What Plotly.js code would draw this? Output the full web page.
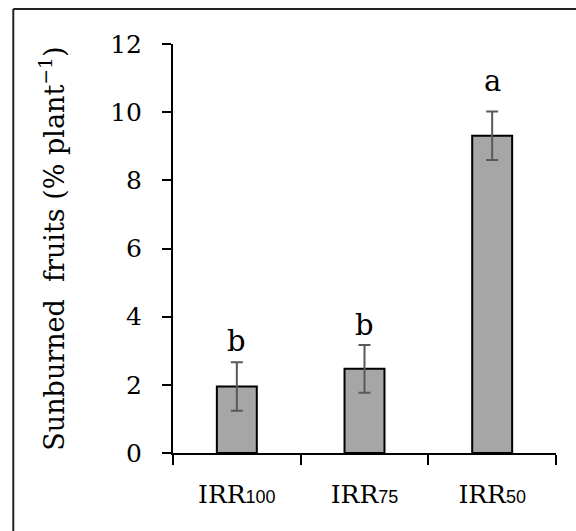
<!DOCTYPE html>
<html>
<head>
<meta charset="utf-8">
<script src="https://cdn.plot.ly/plotly-3.0.1.min.js"></script>
<style>html,body{margin:0;padding:0;background:#fff;}#chart{width:576px;height:531px;}</style>
</head>
<body>
<div id="chart"></div>
<script>
// Data
var categories = ["IRR100", "IRR75", "IRR50"];
var tickMain = ["IRR", "IRR", "IRR"];
var tickSub = ["100", "75", "50"];
var values = [1.95, 2.47, 9.31];
var errors = [0.71, 0.70, 0.71];
var letters = ["b", "b", "a"];
var letterY = [3.3, 3.75, 10.9];
var yTicks = [0, 2, 4, 6, 8, 10, 12];

var serif = "DejaVu Serif";
var ticktext = categories.map(function (c, i) {
  return tickMain[i] + '<span style="font-family:Liberation Sans;font-size:18px">' + tickSub[i] + '</span>';
});

var trace = {
  type: "bar",
  x: categories,
  y: values,
  width: 0.313,
  marker: {color: "#a6a6a6", line: {color: "#000000", width: 2}},
  error_y: {type: "data", array: errors, visible: true, color: "#595959", thickness: 2, width: 6},
  hoverinfo: "skip"
};

var annotations = letters.map(function (t, i) {
  return {x: categories[i], y: letterY[i], xref: "x", yref: "y", text: t, showarrow: false,
    font: {family: serif, size: 29, color: "#000"}, yanchor: "middle", xanchor: "center"};
});

var layout = {
  width: 576, height: 531,
  margin: {l: 173, r: 20, t: 44, b: 77.5},
  paper_bgcolor: "#fff", plot_bgcolor: "#fff",
  showlegend: false,
  bargap: 0,
  xaxis: {
    type: "category",
    tickmode: "array", tickvals: categories, ticktext: ticktext,
    tickson: "boundaries",
    ticks: "outside", ticklen: 10, tickwidth: 2, tickcolor: "#000",
    showline: true, linecolor: "#000", linewidth: 2,
    showgrid: false, zeroline: false,
    ticklabelstandoff: 18,
    tickfont: {family: serif, size: 25, color: "#000"}
  },
  yaxis: {
    range: [0, 12],
    tickmode: "array", tickvals: yTicks,
    ticks: "outside", ticklen: 9, tickwidth: 2, tickcolor: "#000",
    showline: true, linecolor: "#000", linewidth: 2,
    showgrid: false, zeroline: false,
    ticklabelstandoff: 15,
    tickfont: {family: serif, size: 25, color: "#000"},
    title: {text: "Sunburned&nbsp; fruits (% plant<sup>\u22121</sup>)", standoff: 38,
      font: {family: serif, size: 27, color: "#000"}}
  },
  annotations: annotations,
  shapes: [
    {type: "line", xref: "paper", yref: "paper", x0: -0.417, x1: -0.417, y0: -0.6, y1: 1.0855,
      line: {color: "#222", width: 2}, layer: "below"},
    {type: "line", xref: "paper", yref: "paper", x0: -0.417, x1: 1.6, y0: 1.0855, y1: 1.0855,
      line: {color: "#222", width: 2}, layer: "below"}
  ]
};

Plotly.newPlot("chart", [trace], layout, {displayModeBar: false, staticPlot: true});
</script>
</body>
</html>
